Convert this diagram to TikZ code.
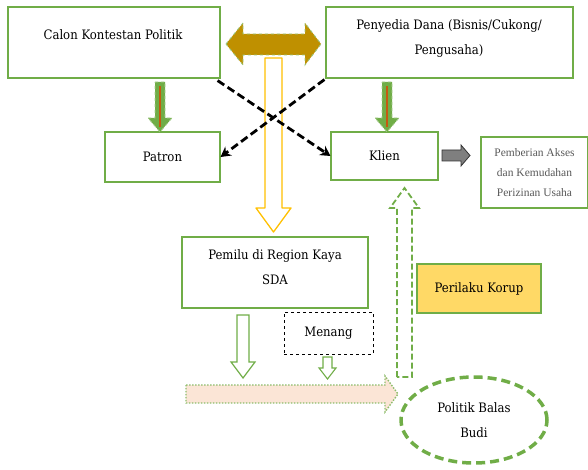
\documentclass[tikz,border=0pt]{standalone}
\usepackage{fontspec}
\setmainfont{DejaVu Serif Condensed}
\newfontfamily\thinserif{Liberation Serif}
\usetikzlibrary{arrows.meta,shapes.geometric}
\definecolor{gborder}{HTML}{70AD47}
\definecolor{gold}{HTML}{BF9000}
\definecolor{ylw}{HTML}{FFC000}
\definecolor{ylwfill}{HTML}{FFD966}
\definecolor{pinkfill}{HTML}{FBE5D6}
\definecolor{orng}{HTML}{C55A11}
\definecolor{grayarrow}{HTML}{7F7F7F}
\tikzset{
  gbox/.style={draw=gborder,line width=1.1pt,fill=white},
  lbl/.style={font=\fontsize{13}{25}\selectfont,align=center,inner sep=0pt},
  smalllbl/.style={font=\thinserif\fontsize{11.5}{20}\selectfont,align=center,inner sep=0pt,text=black!65},
  blackdash/.style={line width=2.8pt,dash pattern=on 8pt off 4pt,-{Stealth[length=10pt,width=11pt]}},
  fundarrow/.style={fill=gborder,draw=gborder!60,line width=0.8pt,dashed},
}
\begin{document}
\begin{tikzpicture}[x=1pt,y=-1pt]
\useasboundingbox (0,0) rectangle (588,470);
% boxes
\node[gbox,minimum width=212pt,minimum height=71pt] (calon) at (114,42.5) {};
\node[lbl] at (113,35) {Calon Kontestan Politik};
\node[gbox,minimum width=247pt,minimum height=71pt] (dana) at (449.5,42.5) {};
\node[lbl] at (449,38.5) {Penyedia Dana (Bisnis/Cukong/\\Pengusaha)};
\node[gbox,minimum width=115pt,minimum height=50pt,lbl] (patron) at (162.5,157) {Patron};
\node[gbox,minimum width=107pt,minimum height=48pt,lbl] (klien) at (384.5,156) {Klien};
\node[gbox,minimum width=107pt,minimum height=71pt,smalllbl] (akses) at (534.5,172.5) {Pemberian Akses\\dan Kemudahan\\Perizinan Usaha};
\node[gbox,minimum width=186pt,minimum height=71pt] (pemilu) at (275,272.5) {};
\node[lbl] at (275,267.5) {Pemilu di Region Kaya\\SDA};
\node[draw=black,dashed,line width=0.8pt,minimum width=89pt,minimum height=42pt,lbl,fill=white] (menang) at (328.5,333) {Menang};
\node[draw=gborder,line width=1.1pt,fill=ylwfill,minimum width=124pt,minimum height=49pt,lbl] (korup) at (479,288.5) {Perilaku Korup};
\node[draw=gborder,line width=3.5pt,dash pattern=on 9pt off 5pt,ellipse,minimum width=146pt,minimum height=86pt,lbl] (budi) at (474,420) {Politik Balas\\Budi};
% yellow hollow arrow
\draw[ylw,line width=1.3pt,fill=white,line join=round] (265,58) -- (282,58) -- (282,208) -- (291,208) -- (273.5,232) -- (256,208) -- (265,208) -- cycle;
% gold double arrow
\draw[fill=gold,draw=gborder!70,line width=0.9pt,dashed] (226,44) -- (243,23) -- (243,34) -- (305,34) -- (305,23) -- (321,44) -- (305,65) -- (305,55) -- (243,55) -- (243,65) -- cycle;
% funding arrows (green with orange core)
\draw[fundarrow] (155,82) -- (165,82) -- (165,118) -- (172,118) -- (160,132) -- (148,118) -- (155,118) -- cycle;
\draw[orng,line width=1.6pt] (160,86) -- (160,127);
\draw[fundarrow] (382,82) -- (392,82) -- (392,118) -- (399,118) -- (387,132) -- (375,118) -- (382,118) -- cycle;
\draw[orng,line width=1.6pt] (387,86) -- (387,127);
% crossing dashed arrows
\draw[blackdash] ([shift={(-3pt,-2pt)}]calon.south east) -- (klien.west);
\draw[blackdash] ([shift={(-1pt,-1pt)}]dana.south west) -- (patron.east);
% gray arrow
\draw[fill=grayarrow,draw=black!80,line width=0.8pt] (442,150) -- (461,150) -- (461,145) -- (470,155.5) -- (461,166) -- (461,161) -- (442,161) -- cycle;
% green hollow arrow under Pemilu
\draw[gborder,line width=1.2pt,fill=white] (237,315) -- (249,315) -- (249,362) -- (255,362) -- (243,378) -- (231,362) -- (237,362) -- cycle;
% small arrow under Menang
\draw[gborder,line width=1.1pt,fill=white] (323,357) -- (332,357) -- (332,368) -- (336,368) -- (327.5,379) -- (319,368) -- (323,368) -- cycle;
% pink dotted arrow
\draw[fill=pinkfill,draw=gborder!80,line width=1.4pt,dash pattern=on 1.5pt off 1.5pt] (186,385) -- (385,385) -- (385,376) -- (398,394) -- (385,412) -- (385,403) -- (186,403) -- cycle;
% green dashed up arrow
\draw[gborder,line width=1.8pt,dash pattern=on 6pt off 3pt,fill=white] (397,377) -- (397,208) -- (390,208) -- (404.5,188) -- (419,208) -- (412,208) -- (412,377) -- cycle;
\end{tikzpicture}
\end{document}
